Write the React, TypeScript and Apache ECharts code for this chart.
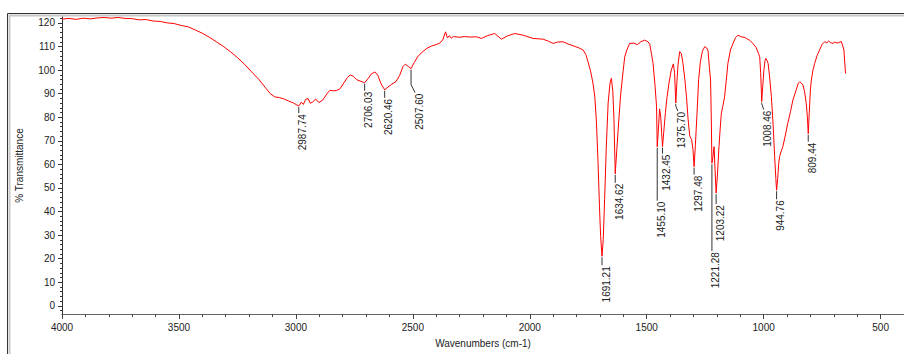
import React, { useEffect, useRef } from "react";
import * as echarts from "echarts";

// ---- data ----
const wavenumbers = [
  4000, 3970, 3940, 3910, 3880, 3850, 3820, 3790, 3760, 3730, 3700, 3670, 3640, 3610, 3580, 3550, 3520, 3490,
  3460, 3430, 3400, 3370, 3340, 3310, 3280, 3250, 3220, 3190, 3160, 3130, 3110, 3090, 3070, 3050, 3030, 3010,
  2987.74, 2977, 2968, 2958, 2948, 2938, 2928, 2915, 2902, 2885, 2868, 2855, 2840, 2826, 2812, 2795, 2780, 2768,
  2755, 2740, 2722, 2706.03, 2692, 2678, 2662, 2650, 2636, 2620.46, 2606, 2590, 2572, 2556, 2542, 2532, 2520,
  2507.6, 2494, 2478, 2460, 2440, 2420, 2400, 2385, 2372, 2360, 2352, 2344, 2336, 2326, 2300, 2280, 2255, 2228,
  2207, 2180, 2150, 2121, 2095, 2064, 2029, 1986, 1943, 1920, 1900, 1880, 1858, 1835, 1815, 1790, 1772, 1760,
  1751, 1740, 1730, 1722, 1715, 1708, 1702, 1697, 1691.21, 1686, 1680, 1673, 1665, 1657, 1651, 1645, 1640,
  1634.62, 1628, 1622, 1612, 1601, 1594, 1585, 1573, 1555, 1540, 1525, 1509, 1495, 1487, 1479, 1473, 1465, 1458,
  1455.1, 1450, 1445, 1440, 1436, 1432.45, 1426, 1420, 1413, 1404, 1395, 1386, 1381, 1375.7, 1371, 1366, 1359,
  1352, 1345, 1337, 1330, 1323, 1316, 1308, 1302, 1297.48, 1292, 1285, 1278, 1271, 1262, 1252, 1244, 1238, 1232,
  1227, 1224, 1221.28, 1217, 1212, 1208, 1203.22, 1198, 1191, 1186, 1181, 1174, 1167, 1160, 1153, 1142, 1131,
  1120, 1110, 1095, 1080, 1074, 1060, 1046, 1032, 1022, 1017, 1013, 1010, 1008.46, 1004, 999, 994, 991, 986, 981,
  974, 967, 960, 953, 948, 944.76, 940, 936, 932, 925, 918, 908, 897, 885, 875, 862, 852, 846, 840, 832, 825,
  818, 813, 809.44, 805, 800, 796, 790, 782, 772, 761, 750, 739, 730, 722, 714, 704, 695, 686, 676, 668, 663,
  657, 650,
];

const transmittance = [
  121.6, 121.9, 121.5, 122.0, 121.7, 122.1, 122.3, 122.0, 122.3, 121.9, 121.8, 121.3, 121.4, 120.8, 120.6, 120.0,
  119.7, 118.9, 118.3, 117.0, 115.6, 113.9, 112.0, 110.0, 107.8, 105.3, 102.5, 99.3, 96.2, 92.5, 90.0, 88.6,
  88.3, 87.7, 86.8, 86.0,
  84.7, 86.4, 85.4, 87.6, 87.9, 85.9, 86.5, 87.7, 86.2, 87.3, 89.8, 91.4, 91.2, 91.3, 92.0, 94.5, 96.8, 97.9,
  97.4, 95.9, 95.2, 94.6, 96.3, 98.3, 99.2, 97.8, 94.2, 91.6, 92.8, 94.0, 95.1, 97.8, 101.5, 102.5, 101.6,
  100.6, 103.2, 105.8, 107.6, 109.2, 110.2, 110.8, 111.4, 112.8, 116.2, 113.6, 114.6, 113.5, 114.2, 113.9, 114.2,
  114.0, 114.1,
  113.4, 114.6, 115.5, 113.1, 114.5, 115.5, 114.8, 113.4, 113.1, 112.2, 111.3, 111.9, 112.0, 111.0, 110.3, 109.4,
  108.5, 106.5,
  103.5, 99.5, 94.5, 88.7, 78, 60.5, 42, 29.4, 21, 28, 45, 67, 86, 94.5, 96.5, 91, 79,
  56, 66, 75, 89, 99.5, 105.6, 108.5, 111.3, 111.4, 110.8, 112.0, 112.7, 112.0, 111.0, 106.5, 102.8, 94, 84.6,
  67.5, 75, 83.5, 80, 73, 67.5, 75, 82, 88.7, 95, 100, 102.6, 99, 86, 95, 102.5, 107.8,
  107, 102.8, 96, 88.7, 79, 72, 70.5, 66, 59, 68, 81.6, 96, 103.2, 108, 109.9, 109.4, 108.2, 101,
  95.8, 80, 60.5, 63, 67.5, 58, 47.8, 55, 67.5, 75, 81.6, 85, 88.7, 95.5, 102.8, 108.5, 111.3,
  113.8, 114.8, 114.1, 113.8, 113.4, 112.6, 111.3, 109.5, 107, 105.6, 99, 91.5, 86.6, 93, 100, 104, 104.9, 104.2, 102.8,
  96.5, 88.7, 77.5, 63.3, 54, 49, 54, 60, 63.3, 65.5, 67.5, 72, 77.4, 82.5, 87.3, 91.2, 94.4, 95, 94.6, 93.6, 90.8,
  85.9, 80, 73, 82, 92, 95.8, 99.6, 102.8, 106, 108.5, 110.9, 112, 111.6, 112.3, 111.6, 111.3, 111.9, 111.4, 111.8, 112.1, 110.6,
  108.5, 98.5,
];

const peakLabels = [
  "2987.74", "2706.03", "2620.46", "2507.60", "1691.21", "1634.62", "1455.10", "1432.45",
  "1375.70", "1297.48", "1221.28", "1203.22", "1008.46", "944.76", "809.44",
];
const peakWavenumbers = [
  2987.74, 2706.03, 2620.46, 2507.6, 1691.21, 1634.62, 1455.1, 1432.45,
  1375.7, 1297.48, 1221.28, 1203.22, 1008.46, 944.76, 809.44,
];
const peakTransmittance = [84.7, 94.6, 91.6, 100.6, 21, 56, 67.5, 67.5, 86, 59, 60.5, 47.8, 86.6, 49, 73];

const yTickValues = [0, 10, 20, 30, 40, 50, 60, 70, 80, 90, 100, 110, 120];
const xTickValues = [4000, 3500, 3000, 2500, 2000, 1500, 1000, 500];

// ---- annotation layout (pixels): vertical drop, then optional bend ----
const peakTickLayout = [
  { drop: 6, bx: 0, by: 0 },
  { drop: 7, bx: 0, by: 0 },
  { drop: 7, bx: 0, by: 0 },
  { drop: 15, bx: 4, by: 8 },
  { drop: 8, bx: 0, by: 0 },
  { drop: 8, bx: 0, by: 0 },
  { drop: 53, bx: 0, by: 0 },
  { drop: 6, bx: 0, by: 0 },
  { drop: 2, bx: 2, by: 5 },
  { drop: 7, bx: 0, by: 0 },
  { drop: 87, bx: 0, by: 0 },
  { drop: 10, bx: 0, by: 0 },
  { drop: 1, bx: 2, by: 6 },
  { drop: 8, bx: 0, by: 0 },
  { drop: 7, bx: 0, by: 0 },
];

const FONT = '"Liberation Sans", Arial, sans-serif';

function range(a: number, b: number, step: number) {
  const out: number[] = [];
  for (let v = a; v <= b + 1e-9; v += step) out.push(Math.round(v * 1000) / 1000);
  return out;
}

export default function App() {
  const ref = useRef<HTMLDivElement>(null);

  useEffect(() => {
    if (!ref.current) return;
    const chart = echarts.init(ref.current, null, { renderer: "svg" });
    const spectrum = wavenumbers.map((w, i) => [w, transmittance[i]]);
    const peaks = peakWavenumbers.map((w, i) => [w, peakTransmittance[i], i]);

    const xMinorTicks = range(500, 4000, 100);
    const yMinorTicks = range(-2, 122, 2);

    const option: any = {
      animation: false,
      backgroundColor: "#ffffff",
      grid: { left: 62, right: 0, top: 17, bottom: 40, containLabel: false },
      xAxis: [
        {
          type: "value",
          min: 400,
          max: 4000,
          inverse: true,
          position: "bottom",
          name: "Wavenumbers (cm-1)",
          nameLocation: "middle",
          nameGap: 24,
          nameTextStyle: { fontFamily: FONT, fontSize: 10, color: "#222" },
          axisLine: { show: true, onZero: false, lineStyle: { color: "#666", width: 1 } },
          axisTick: { show: true, customValues: xTickValues, length: 5, lineStyle: { color: "#444" } },
          axisLabel: {
            show: true,
            customValues: xTickValues,
            formatter: (v: number) => String(v),
            margin: 8,
            fontFamily: FONT,
            fontSize: 10,
            color: "#222",
            showMinLabel: true,
            showMaxLabel: true,
          },
          splitLine: { show: false },
        },
        {
          type: "value",
          min: 400,
          max: 4000,
          inverse: true,
          position: "bottom",
          axisLine: { show: false, onZero: false },
          axisTick: { show: true, customValues: xMinorTicks, length: 3, lineStyle: { color: "#444" } },
          axisLabel: { show: false },
          splitLine: { show: false },
        },
      ],
      yAxis: [
        {
          type: "value",
          min: -3.5,
          max: 122.5,
          position: "left",
          name: "% Transmittance",
          nameLocation: "middle",
          nameRotate: 90,
          nameGap: 38,
          nameTextStyle: { fontFamily: FONT, fontSize: 10, color: "#222" },
          axisLine: { show: true, onZero: false, lineStyle: { color: "#333", width: 1 } },
          axisTick: { show: true, customValues: yTickValues, length: 4, lineStyle: { color: "#333" } },
          axisLabel: {
            show: true,
            customValues: yTickValues,
            formatter: (v: number) => String(v),
            margin: 7,
            fontFamily: FONT,
            fontSize: 10,
            color: "#222",
          },
          splitLine: { show: false },
        },
        {
          type: "value",
          min: -3.5,
          max: 122.5,
          position: "left",
          axisLine: { show: false, onZero: false },
          axisTick: { show: true, customValues: yMinorTicks, length: 2, lineStyle: { color: "#333" } },
          axisLabel: { show: false },
          splitLine: { show: false },
        },
      ],
      series: [
        {
          type: "line",
          data: spectrum,
          xAxisIndex: 0,
          yAxisIndex: 0,
          showSymbol: false,
          symbol: "none",
          smooth: false,
          lineStyle: { color: "#ff0000", width: 1 },
          silent: true,
          z: 3,
        },
        {
          type: "custom",
          xAxisIndex: 0,
          yAxisIndex: 0,
          data: peaks,
          silent: true,
          z: 4,
          renderItem: (params: any, api: any) => {
            const i = api.value(2);
            const p = api.coord([api.value(0), api.value(1)]);
            const L = peakTickLayout[i];
            const x0 = p[0];
            const y0 = p[1] + 1;
            const pts: number[][] = [
              [x0, y0],
              [x0, y0 + L.drop],
            ];
            let ex = x0;
            let ey = y0 + L.drop;
            if (L.bx || L.by) {
              ex = x0 + L.bx;
              ey = y0 + L.drop + L.by;
              pts.push([ex, ey]);
            }
            return {
              type: "group",
              children: [
                {
                  type: "polyline",
                  shape: { points: pts },
                  style: { stroke: "#333", lineWidth: 1, fill: null },
                },
                {
                  type: "text",
                  x: ex - 1,
                  y: ey + 1,
                  rotation: Math.PI / 2,
                  style: {
                    text: peakLabels[i],
                    font: `10px ${FONT}`,
                    fill: "#222",
                    align: "right",
                    verticalAlign: "top",
                  },
                },
              ],
            };
          },
        },
      ],
      graphic: [
        {
          type: "rect",
          shape: { x: 7.5, y: 13.5, width: 920, height: 360 },
          style: { fill: null, stroke: "#333", lineWidth: 1 },
          silent: true,
        },
        {
          type: "rect",
          shape: { x: 9.5, y: 15.5, width: 920, height: 360 },
          style: { fill: null, stroke: "#c8c8c8", lineWidth: 2 },
          silent: true,
        },
      ],
    };

    chart.setOption(option);
    return () => {
      chart.dispose();
    };
  }, []);

  return (
    <div
      ref={ref}
      style={{ position: "fixed", left: 0, top: 0, width: 904, height: 354, background: "#fff" }}
    />
  );
}
